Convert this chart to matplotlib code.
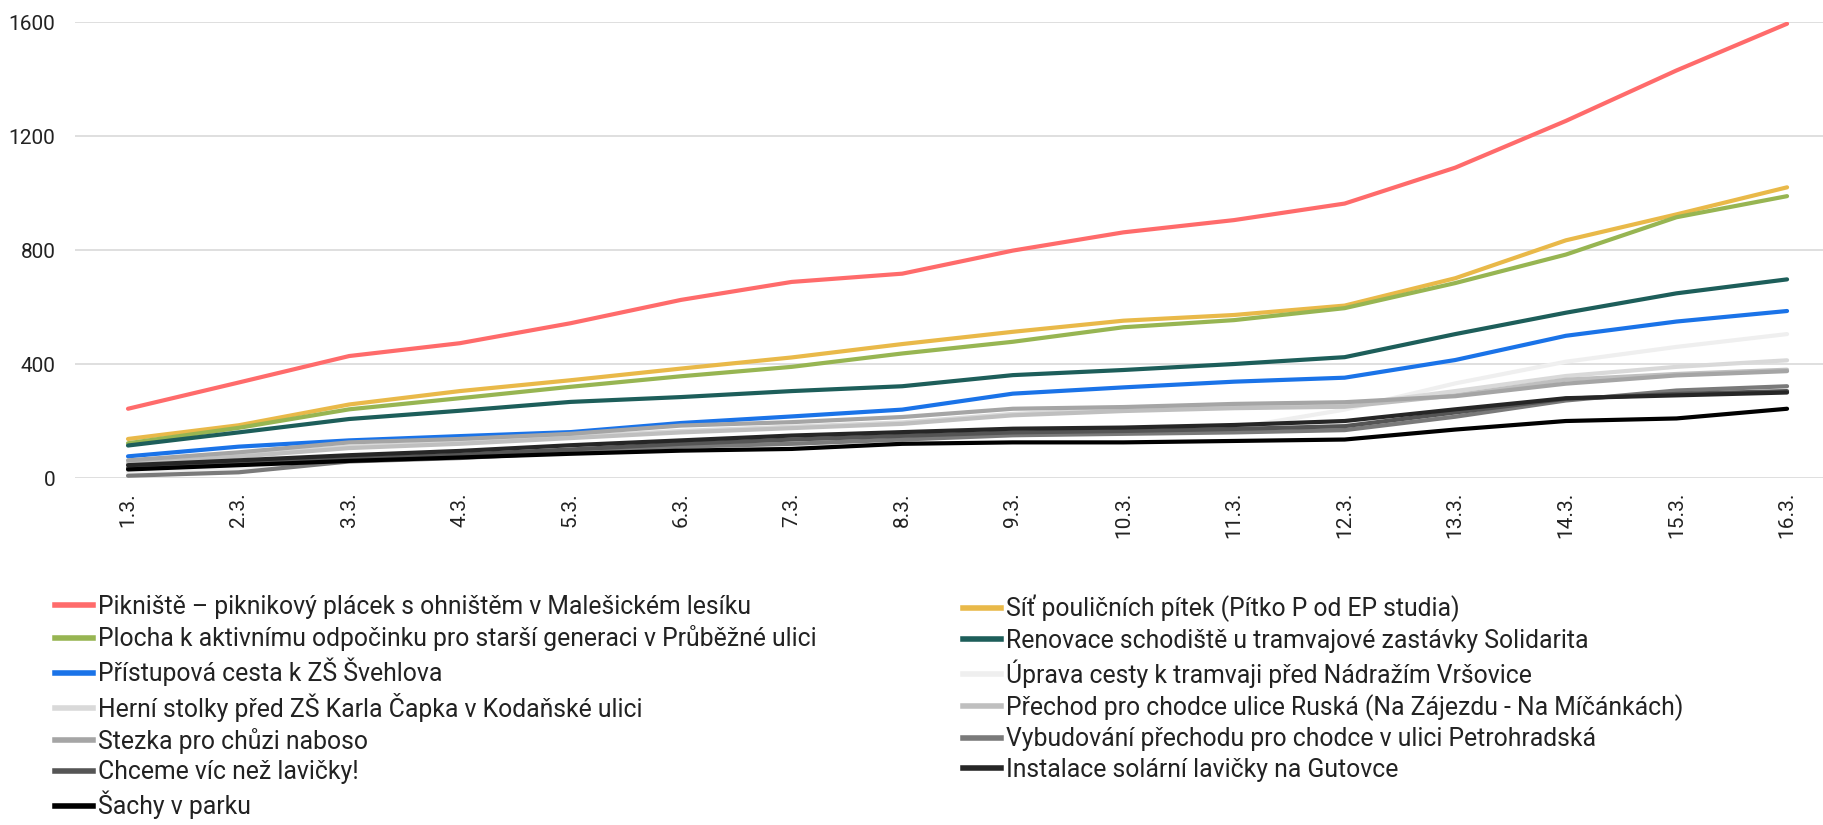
import matplotlib.pyplot as plt
from matplotlib.lines import Line2D

plt.rcParams['font.family'] = ['Roboto', 'DejaVu Sans']

days = ['1.3.', '2.3.', '3.3.', '4.3.', '5.3.', '6.3.', '7.3.', '8.3.',
        '9.3.', '10.3.', '11.3.', '12.3.', '13.3.', '14.3.', '15.3.', '16.3.']

piknoviste = [243, 335, 428, 473, 543, 625, 688, 717, 798, 862, 905, 963, 1089, 1253, 1430, 1594]
pitka = [137, 185, 258, 305, 343, 384, 423, 470, 513, 552, 572, 605, 701, 834, 925, 1020]
plocha = [122, 176, 241, 280, 320, 357, 390, 437, 478, 529, 554, 596, 684, 784, 915, 989]
schodiste = [114, 160, 207, 236, 267, 284, 305, 322, 361, 379, 400, 424, 505, 580, 648, 697]
pristupova = [76, 110, 132, 147, 161, 193, 216, 240, 296, 318, 338, 352, 414, 499, 549, 586]
uprava = [20, 35, 60, 75, 95, 110, 120, 135, 150, 160, 175, 240, 332, 408, 460, 505]
stolky = [55, 80, 110, 125, 145, 165, 180, 195, 225, 240, 250, 255, 305, 358, 390, 413]
prechod_ruska = [50, 75, 105, 120, 140, 160, 175, 190, 220, 235, 245, 250, 290, 345, 365, 380]
stezka = [62, 90, 125, 137, 155, 184, 196, 214, 243, 249, 260, 266, 287, 331, 360, 375]
prechod_petrohradska = [8, 20, 58, 70, 90, 110, 120, 135, 150, 155, 160, 168, 215, 272, 307, 322]
chceme = [35, 52, 68, 82, 100, 120, 135, 148, 160, 165, 172, 182, 230, 278, 295, 305]
lavicka = [45, 62, 80, 95, 115, 132, 149, 161, 173, 177, 186, 200, 241, 280, 290, 300]
sachy = [30, 45, 60, 72, 85, 96, 102, 120, 125, 125, 130, 135, 170, 200, 209, 243]

series = [
    ('Pikniště – piknikový plácek s ohništěm v Malešickém lesíku', piknoviste, '#ff6b6b'),
    ('Síť pouličních pítek (Pítko P od EP studia)', pitka, '#e9b949'),
    ('Plocha k aktivnímu odpočinku pro starší generaci v Průběžné ulici', plocha, '#97b552'),
    ('Renovace schodiště u tramvajové zastávky Solidarita', schodiste, '#1d5e5a'),
    ('Přístupová cesta k ZŠ Švehlova', pristupova, '#1a73e8'),
    ('Úprava cesty k tramvaji před Nádražím Vršovice', uprava, '#efefef'),
    ('Herní stolky před ZŠ Karla Čapka v Kodaňské ulici', stolky, '#d9d9d9'),
    ('Přechod pro chodce ulice Ruská (Na Zájezdu - Na Míčánkách)', prechod_ruska, '#bfbfbf'),
    ('Stezka pro chůzi naboso', stezka, '#a5a5a5'),
    ('Vybudování přechodu pro chodce v ulici Petrohradská', prechod_petrohradska, '#7a7a7a'),
    ('Chceme víc než lavičky!', chceme, '#555555'),
    ('Instalace solární lavičky na Gutovce', lavicka, '#262626'),
    ('Šachy v parku', sachy, '#000000'),
]

fig = plt.figure(figsize=(18.23, 8.25), dpi=100)
ax = fig.add_axes([0.0411, 0.4206, 0.9589, 0.5527])

x = range(len(days))
for name, values, color in series:
    ax.plot(x, values, color=color, lw=3, solid_capstyle='round', solid_joinstyle='round')

ax.set_ylim(0, 1600)
ax.set_yticks([0, 400, 800, 1200, 1600])
ax.set_xlim(-0.48, 15.325)
ax.set_xticks(list(x))
ax.set_xticklabels(days, rotation=90)
ax.grid(axis='y', color='#d9d9d9', lw=1.2)
ax.set_axisbelow(True)
for s in ax.spines.values():
    s.set_visible(False)
ax.tick_params(axis='both', length=0, labelsize=15, colors='#222222')
ax.tick_params(axis='y', pad=14)
ax.tick_params(axis='x', pad=10)

# two legend columns, filled row by row
handles = [Line2D([], [], color=c, lw=4) for _, _, c in series]
labels = [n for n, _, _ in series]
leg_kw = dict(frameon=False, fontsize=17.8, handlelength=1.55, handletextpad=0.2,
              labelspacing=0.26, borderpad=0, borderaxespad=0, loc='upper left',
              labelcolor='#222222')
leg1 = fig.legend(handles[0::2], labels[0::2], bbox_to_anchor=(0.030, 0.279), **leg_kw)
leg2 = fig.legend(handles[1::2], labels[1::2], bbox_to_anchor=(0.528, 0.279), **leg_kw)

fig.savefig('out.png', dpi=100)
